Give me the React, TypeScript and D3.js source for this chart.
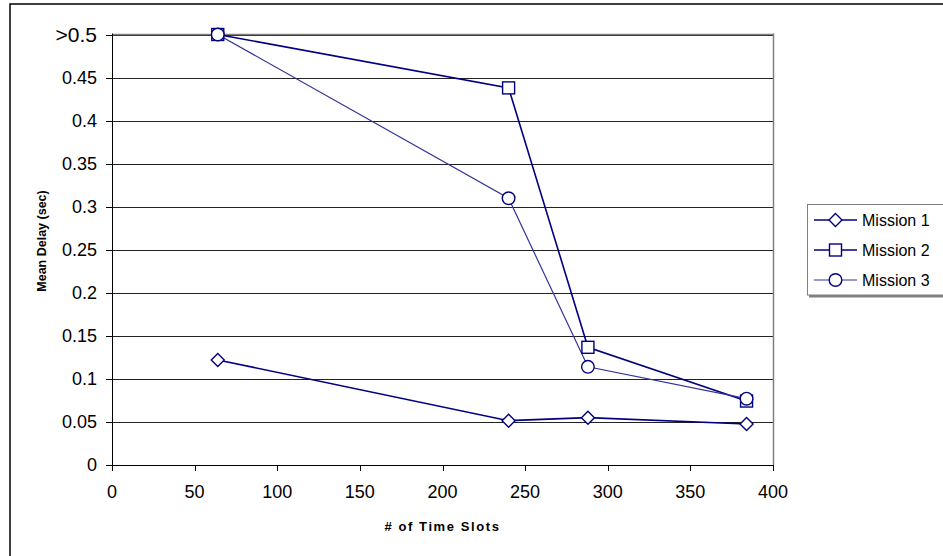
import React from "react";
import * as d3 from "d3";

const xValues = [64, 240, 288, 384];
const mission1 = [0.122, 0.0515, 0.055, 0.0476];
const mission2 = [0.5, 0.438, 0.1367, 0.0743];
const mission3 = [0.5, 0.3098, 0.114, 0.077];
const seriesNames = ["Mission 1", "Mission 2", "Mission 3"];
const markerShapes = ["diamond", "square", "circle"];
const xTicks = [0, 50, 100, 150, 200, 250, 300, 350, 400];
const yTicks = [0, 0.05, 0.1, 0.15, 0.2, 0.25, 0.3, 0.35, 0.4, 0.45, 0.5];
const yTickLabels = ["0", "0.05", "0.1", "0.15", "0.2", "0.25", "0.3", "0.35", "0.4", "0.45", ">0.5"];
const xTitle = "# of Time Slots";
const yTitle = "Mean Delay (sec)";

const W = 943;
const H = 556;
const left = 112;
const right = 773;
const top = 34.5;
const bottom = 465;

const navy = "#000080";
const lineColors = ["#000080", "#000080", "#333399"];
const lineWidths = [1.6, 1.6, 1.2];

function Marker({ shape, x, y }: { shape: string; x: number; y: number }) {
  if (shape === "diamond") {
    const r = 6.5;
    return (
      <path
        d={`M${x},${y - r}L${x + r},${y}L${x},${y + r}L${x - r},${y}Z`}
        fill="#fff"
        stroke={navy}
        strokeWidth={1.4}
      />
    );
  }
  if (shape === "square") {
    const s = 6;
    return <rect x={x - s} y={y - s} width={2 * s} height={2 * s} fill="#fff" stroke={navy} strokeWidth={1.4} />;
  }
  return <circle cx={x} cy={y} r={6.3} fill="#fff" stroke={navy} strokeWidth={1.4} />;
}

export default function App() {
  const x = d3.scaleLinear().domain([0, 400]).range([left, right]);
  const y = d3.scaleLinear().domain([0, 0.5]).range([bottom, top]);
  const allSeries = [mission1, mission2, mission3];
  const line = d3
    .line<[number, number]>()
    .x((d) => x(d[0]))
    .y((d) => y(d[1]));

  const legendLeft = 807.5;
  const legendTop = 204.5;
  const legendBottom = 296;
  const legendY0 = 220;
  const legendStep = 30;

  return (
    <svg
      width={W}
      height={H}
      style={{ position: "absolute", left: 0, top: 0, background: "#fff" }}
      fontFamily="'Liberation Sans', Arial, sans-serif"
    >
      <rect x={0} y={0} width={W} height={H} fill="#fff" />
      {/* outer chart border */}
      <rect x={10} y={4} width={W + 20} height={H + 20} fill="none" stroke="#000" strokeWidth={1.5} />

      {/* gridlines */}
      {yTicks.slice(1).map((t) => (
        <line key={"g" + t} x1={left} x2={right} y1={Math.round(y(t)) + 0.5} y2={Math.round(y(t)) + 0.5} stroke="#222" strokeWidth={1} />
      ))}
      {/* plot area border top/right */}
      <line x1={left} x2={right + 0.5} y1={Math.round(top) - 0.5} y2={Math.round(top) - 0.5} stroke="#808080" strokeWidth={1.5} />
      <line x1={right + 0.5} x2={right + 0.5} y1={top - 1} y2={bottom} stroke="#808080" strokeWidth={1.5} />

      {/* axes */}
      <line x1={left + 0.5} x2={left + 0.5} y1={top - 1} y2={bottom + 0.5} stroke="#000" strokeWidth={1} />
      <line x1={left} x2={right + 1} y1={bottom + 0.5} y2={bottom + 0.5} stroke="#000" strokeWidth={1} />
      {yTicks.map((t, i) => (
        <g key={"yt" + t}>
          <line x1={left - 6} x2={left} y1={Math.round(y(t)) + 0.5} y2={Math.round(y(t)) + 0.5} stroke="#000" />
          <text
            x={left - 15}
            y={y(t)}
            dy="0.35em"
            textAnchor="end"
            fontSize={i === yTicks.length - 1 ? 21 : 18}
            fill="#000"
          >
            {yTickLabels[i]}
          </text>
        </g>
      ))}
      {xTicks.map((t) => (
        <g key={"xt" + t}>
          <line x1={Math.round(x(t)) + 0.5} x2={Math.round(x(t)) + 0.5} y1={bottom} y2={bottom + 6} stroke="#000" />
          <text x={x(t)} y={498} textAnchor="middle" fontSize={18} fill="#000">
            {t}
          </text>
        </g>
      ))}

      {/* axis titles */}
      <text x={(left + right) / 2} y={531} textAnchor="middle" fontSize={13} fontWeight="bold" letterSpacing={1.6} fill="#000">
        {xTitle}
      </text>
      <text
        transform={`translate(46,241) rotate(-90)`}
        textAnchor="middle"
        fontSize={12.5}
        fontWeight="bold"
        fill="#000"
      >
        {yTitle}
      </text>

      {/* series */}
      {allSeries.map((s, i) => (
        <path
          key={"l" + i}
          d={line(xValues.map((xv, j) => [xv, s[j]] as [number, number])) || ""}
          fill="none"
          stroke={lineColors[i]}
          strokeWidth={lineWidths[i]}
        />
      ))}
      {allSeries.map((s, i) =>
        xValues.map((xv, j) => <Marker key={"m" + i + "-" + j} shape={markerShapes[i]} x={x(xv)} y={y(s[j])} />)
      )}

      {/* legend */}
      <rect x={legendLeft + 1.5} y={legendTop + 1.5} width={200} height={legendBottom - legendTop} fill="#808080" />
      <rect x={legendLeft} y={legendTop} width={200} height={legendBottom - legendTop - 1} fill="#fff" stroke="#808080" strokeWidth={1} />
      {seriesNames.map((name, i) => {
        const ly = legendY0 + i * legendStep;
        return (
          <g key={"lg" + i}>
            <line x1={814} x2={857} y1={ly} y2={ly} stroke={lineColors[i]} strokeWidth={lineWidths[i]} />
            <Marker shape={markerShapes[i]} x={835.5} y={ly} />
            <text x={862} y={ly} dy="0.36em" fontSize={16} fill="#000">
              {name}
            </text>
          </g>
        );
      })}
    </svg>
  );
}
